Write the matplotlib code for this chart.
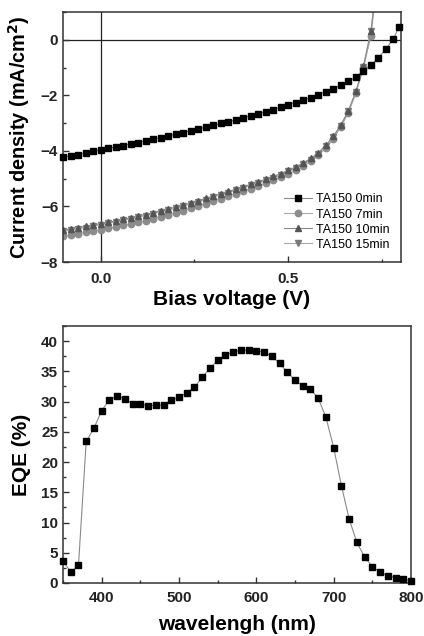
import numpy as np
import matplotlib
matplotlib.use("Agg")
import matplotlib.pyplot as plt
from matplotlib.ticker import MultipleLocator

plt.rcParams['font.family'] = ['Liberation Sans', 'DejaVu Sans']
plt.rcParams['font.weight'] = 'bold'

# ---------------- J-V data ----------------
v_0min = [-0.10, -0.08, -0.06, -0.04, -0.02, 0.00, 0.02, 0.04, 0.06, 0.08,
          0.10, 0.12, 0.14, 0.16, 0.18, 0.20, 0.22, 0.24, 0.26, 0.28,
          0.30, 0.32, 0.34, 0.36, 0.38, 0.40, 0.42, 0.44, 0.46, 0.48,
          0.50, 0.52, 0.54, 0.56, 0.58, 0.60, 0.62, 0.64, 0.66, 0.68,
          0.70, 0.72, 0.74, 0.76, 0.78, 0.795]
j_0min = [-4.23, -4.18, -4.13, -4.08, -4.02, -3.96, -3.91, -3.86, -3.81, -3.75,
          -3.70, -3.64, -3.58, -3.52, -3.46, -3.40, -3.34, -3.28, -3.21, -3.14,
          -3.08, -3.01, -2.95, -2.88, -2.81, -2.74, -2.67, -2.59, -2.51, -2.43,
          -2.34, -2.26, -2.17, -2.08, -1.98, -1.87, -1.76, -1.63, -1.50, -1.33,
          -1.12, -0.90, -0.65, -0.33, 0.04, 0.47]

v_treated = [-0.10, -0.08, -0.06, -0.04, -0.02, 0.00, 0.02, 0.04, 0.06, 0.08,
             0.10, 0.12, 0.14, 0.16, 0.18, 0.20, 0.22, 0.24, 0.26, 0.28,
             0.30, 0.32, 0.34, 0.36, 0.38, 0.40, 0.42, 0.44, 0.46, 0.48,
             0.50, 0.52, 0.54, 0.56, 0.58, 0.60, 0.62, 0.64, 0.66, 0.68,
             0.70, 0.72, 0.74]
j_7min = [-7.08, -7.03, -6.98, -6.93, -6.88, -6.84, -6.79, -6.74, -6.68, -6.63,
          -6.57, -6.51, -6.44, -6.37, -6.30, -6.23, -6.15, -6.07, -5.99, -5.90,
          -5.81, -5.72, -5.63, -5.54, -5.45, -5.36, -5.26, -5.16, -5.06, -4.95,
          -4.84, -4.70, -4.55, -4.38, -4.16, -3.90, -3.56, -3.14, -2.63, -1.92,
          -1.02, 0.15, 2.50]
j_10min = [-6.85, -6.81, -6.76, -6.72, -6.67, -6.62, -6.57, -6.52, -6.46, -6.41,
           -6.35, -6.29, -6.22, -6.16, -6.09, -6.02, -5.95, -5.87, -5.79, -5.71,
           -5.62, -5.54, -5.46, -5.38, -5.29, -5.20, -5.11, -5.02, -4.92, -4.82,
           -4.70, -4.57, -4.43, -4.27, -4.06, -3.80, -3.47, -3.06, -2.55, -1.85,
           -0.95, 0.30, 2.60]
j_15min = [-6.90, -6.85, -6.80, -6.76, -6.71, -6.66, -6.61, -6.56, -6.50, -6.45,
           -6.39, -6.33, -6.26, -6.20, -6.13, -6.06, -5.99, -5.91, -5.83, -5.75,
           -5.66, -5.58, -5.50, -5.42, -5.33, -5.24, -5.15, -5.06, -4.96, -4.86,
           -4.74, -4.61, -4.47, -4.31, -4.10, -3.84, -3.50, -3.09, -2.58, -1.88,
           -0.97, 0.33, 2.70]

labels_jv = ['TA150 0min', 'TA150 7min', 'TA150 10min', 'TA150 15min']

# ---------------- EQE data ----------------
wavelength = [350, 360, 370, 380, 390, 400, 410, 420, 430, 440,
              450, 460, 470, 480, 490, 500, 510, 520, 530, 540,
              550, 560, 570, 580, 590, 600, 610, 620, 630, 640,
              650, 660, 670, 680, 690, 700, 710, 720, 730, 740,
              750, 760, 770, 780, 790, 800]
eqe = [3.65, 1.8, 2.9, 23.4, 25.6, 28.5, 30.3, 30.9, 30.5, 29.6,
       29.6, 29.3, 29.4, 29.4, 30.2, 30.7, 31.5, 32.4, 34.0, 35.5,
       36.8, 37.7, 38.2, 38.5, 38.5, 38.4, 38.2, 37.5, 36.3, 34.9,
       33.5, 32.6, 32.0, 30.6, 27.4, 22.4, 16.1, 10.6, 6.7, 4.3,
       2.7, 1.8, 1.2, 0.9, 0.6, 0.35]

W, H = 424, 636
fig = plt.figure(figsize=(W / 100, H / 100), dpi=100)
fig.patch.set_facecolor('white')

ax1 = fig.add_axes([63 / W, 1 - 262 / H, (401 - 63) / W, (262 - 12) / H])
ax2 = fig.add_axes([63 / W, 1 - 583 / H, (411 - 63) / W, (583 - 326) / H])

line_col = '#8a8a8a'
spine_col = '#333333'

def style(ax):
    for s in ax.spines.values():
        s.set_linewidth(1.1)
        s.set_color(spine_col)
    ax.tick_params(which='both', direction='in', top=False, right=False,
                   labelsize=11, width=1.0, colors=spine_col, labelcolor='#222222')
    ax.tick_params(which='major', length=4)
    ax.tick_params(which='minor', length=2.5)
    for lab in ax.get_xticklabels() + ax.get_yticklabels():
        lab.set_fontweight('bold')

# ---------- top: J-V ----------
ax1.axhline(0, color='#222222', lw=0.9, zorder=1)
ax1.axvline(0, color='#222222', lw=0.9, zorder=1)
ax1.plot(v_0min, j_0min, color=line_col, lw=0.8, marker='s', ms=4.2,
         mfc='black', mec='black', label=labels_jv[0], zorder=3, clip_on=False)
ax1.plot(v_treated, j_7min, color='#aaaaaa', lw=0.8, marker='o', ms=4.6,
         mfc='#8c8c8c', mec='#8c8c8c', label=labels_jv[1], zorder=2)
ax1.plot(v_treated, j_10min, color=line_col, lw=0.8, marker='^', ms=4.8,
         mfc='#555555', mec='#555555', label=labels_jv[2], zorder=2.2)
ax1.plot(v_treated, j_15min, color='#aaaaaa', lw=0.8, marker='v', ms=4.8,
         mfc='#7a7a7a', mec='#7a7a7a', label=labels_jv[3], zorder=2.1)
ax1.set_xlim(-0.1, 0.8)
ax1.set_ylim(-8, 1)
ax1.xaxis.set_major_locator(MultipleLocator(0.5))
ax1.xaxis.set_minor_locator(MultipleLocator(0.25))
ax1.yaxis.set_major_locator(MultipleLocator(2))
ax1.yaxis.set_minor_locator(MultipleLocator(1))
ax1.xaxis.set_major_formatter(matplotlib.ticker.FormatStrFormatter('%.1f'))
ax1.set_xlabel('Bias voltage (V)', fontsize=15, fontweight='bold', labelpad=3)
ax1.set_ylabel('Current density (mA/cm$^\\mathbf{2}$)', fontsize=14.3, fontweight='bold', labelpad=6)
style(ax1)
ax1.tick_params(axis='x', pad=7)
leg = ax1.legend(loc='lower right', frameon=False, handlelength=2.3,
                 handletextpad=0.3, labelspacing=0.25, borderaxespad=0.5,
                 prop={'weight': 'normal', 'size': 9})

# ---------- bottom: EQE ----------
ax2.plot(wavelength, eqe, color=line_col, lw=0.8, marker='s', ms=4.2,
         mfc='black', mec='black', clip_on=False, zorder=3)
ax2.set_xlim(350, 800)
ax2.set_ylim(0, 42.5)
ax2.xaxis.set_major_locator(MultipleLocator(100))
ax2.xaxis.set_minor_locator(MultipleLocator(50))
ax2.yaxis.set_major_locator(MultipleLocator(5))
ax2.yaxis.set_minor_locator(MultipleLocator(2.5))
ax2.set_xlabel('wavelengh (nm)', fontsize=15, fontweight='bold', labelpad=7)
ax2.set_ylabel('EQE (%)', fontsize=15, fontweight='bold', labelpad=7)
style(ax2)
ax2.tick_params(axis='x', pad=6)

fig.savefig('out.png', dpi=100, facecolor='white')
